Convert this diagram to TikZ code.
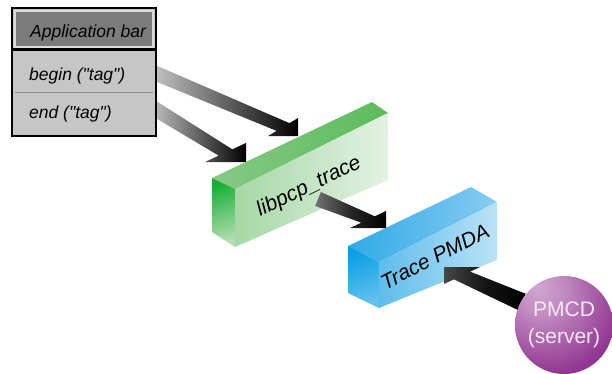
\documentclass[tikz,border=0pt]{standalone}
\usepackage{fontspec}
\setmainfont{Liberation Sans}[Ligatures=TeXOff]
\usepackage{tikz}
\usetikzlibrary{calc, shadings}

\definecolor{appgray}{HTML}{C6C6C6}
\definecolor{barface}{HTML}{7B7B7B}
\definecolor{barlight}{HTML}{DCDCDC}
\definecolor{sepgray}{HTML}{8A8A8A}
% green slab
\definecolor{gEndTop}{HTML}{18B034}
\definecolor{gEndBot}{HTML}{B2DEB2}
\definecolor{gFrontL}{HTML}{A6D8A6}
\definecolor{gFrontR}{HTML}{E4F2E4}
\definecolor{gTopL}{HTML}{86C986}
\definecolor{gTopM}{HTML}{D9EED9}
\definecolor{gTopR}{HTML}{5CBC5C}
% blue slab
\definecolor{bEndTop}{HTML}{0A9FE4}
\definecolor{bEndBot}{HTML}{62C2EF}
\definecolor{bFrontL}{HTML}{5EBDEC}
\definecolor{bFrontR}{HTML}{BCE2F6}
\definecolor{bTopL}{HTML}{30AAE6}
\definecolor{bTopM}{HTML}{C8E7F8}
\definecolor{bTopR}{HTML}{88CBF1}
% server ball
\definecolor{ballhi}{HTML}{D0A8D0}
\definecolor{ballmid}{HTML}{933892}
\definecolor{balledge}{HTML}{6A0B6A}
\definecolor{pmcdtext}{HTML}{F6E8F6}

\pgfdeclareradialshading{pmcdball}{\pgfpoint{-14bp}{20bp}}{%
  color(0bp)=(ballhi); color(12bp)=(ballhi!75!ballmid);
  color(36bp)=(ballmid); color(62bp)=(balledge); color(85bp)=(balledge)}

% fat arrow: [shading]{tail}{tip}{horizontal leg}{vertical leg}
\newcommand{\shafthalf}{7.5pt}
\newcommand{\flowarrow}[5][]{%
  \coordinate (hd1) at ($(#3)+(0,#5)$);
  \coordinate (hd2) at ($(#3)+(#4,0)$);
  \coordinate (hdm) at ($(hd1)!0.5!(hd2)$);
  \shade[arrowbody,#1] ($(#2)!\shafthalf!90:(hdm)$) -- ($(hdm)!\shafthalf!(hd1)$) -- (hd1) -- (#3)
    -- (hd2) -- ($(hdm)!\shafthalf!(hd2)$) -- ($(#2)!\shafthalf!-90:(hdm)$) -- cycle;
}

\begin{document}
\begin{tikzpicture}
  [x=1pt, y=-1pt,
    apptext/.style={font=\itshape\fontsize{17.5}{20}\selectfont, anchor=base west, inner sep=0pt},
    blocklabel/.style={font=\itshape\fontsize{21}{24}\selectfont, inner sep=0pt},
    server/.style={circle, minimum size=98pt, shading=pmcdball, text=pmcdtext,
        align=center, font=\fontsize{21}{27}\selectfont, inner sep=0pt},
    arrowbody/.style={left color=black!20, middle color=black!80, right color=black},
  ]
  \useasboundingbox (0,0) rectangle (612,373);

  % arrow end points
  \coordinate (beginport) at (150,71);
  \coordinate (endport) at (150,106);
  \coordinate (tracein1) at (298,136);
  \coordinate (tracein2) at (246,162);
  \coordinate (traceout) at (318,199);
  \coordinate (pmdain) at (386,228);
  \coordinate (pmdaport) at (444,267);
  \coordinate (pmcdport) at (522,302);

  \flowarrow{beginport}{tracein1}{-30}{-18}
  \flowarrow{endport}{tracein2}{-41}{-19}

  % application bar
  \fill[appgray] (12,8) rectangle (156,136);
  \filldraw[fill=barface, draw=barlight, line width=1.2pt] (15,11) rectangle (153,47);
  \draw[line width=2.5pt] (12,49.5) -- (156,49.5);
  \draw[sepgray, line width=0.8pt] (15,92) -- (153,92);
  \draw[line width=1.5pt] (12,8) rectangle (156,136);
  \node[apptext] (appbar) at (30,37) {Application bar};
  \node[apptext] (begintag) at (29,80) {begin ("tag")};
  \node[apptext] (endtag) at (29,118) {end ("tag")};

  % libpcp_trace slab
  \coordinate (g-bl) at (212,178);
  \coordinate (g-fl) at (235,189);
  \coordinate (g-fr) at (388,113);
  \coordinate (g-br) at (372,102);
  \coordinate (g-flb) at (235,247);
  \coordinate (g-frb) at (388,180);
  \coordinate (g-blb) at (212,232);
  \shade[left color=gTopL, middle color=gTopM, right color=gTopR]
    (g-bl) -- (g-br) -- (g-fr) -- (g-fl) -- cycle;
  \shade[top color=gEndTop, bottom color=gEndBot, shading angle=20]
    (g-bl) -- (g-fl) -- (g-flb) -- (g-blb) -- cycle;
  \shade[left color=gFrontL, right color=gFrontR]
    (g-fl) -- (g-fr) -- (g-frb) -- (g-flb) -- cycle;
  \node[blocklabel, rotate=26] (libpcp) at (309,187) {libpcp\_trace};

  % Trace PMDA slab
  \coordinate (b-bl) at (348,246);
  \coordinate (b-fl) at (379,262);
  \coordinate (b-fr) at (497,202);
  \coordinate (b-br) at (471,187);
  \coordinate (b-flb) at (379,308);
  \coordinate (b-frb) at (497,260);
  \coordinate (b-blb) at (348,293);
  \shade[left color=bTopL, middle color=bTopM, right color=bTopR]
    (b-bl) -- (b-br) -- (b-fr) -- (b-fl) -- cycle;
  \shade[top color=bEndTop, bottom color=bEndBot, shading angle=20]
    (b-bl) -- (b-fl) -- (b-flb) -- (b-blb) -- cycle;
  \shade[left color=bFrontL, right color=bFrontR]
    (b-fl) -- (b-fr) -- (b-frb) -- (b-flb) -- cycle;
  \node[blocklabel, rotate=27] (pmda) at (435,257) {Trace PMDA};

  \flowarrow[left color=black!55, middle color=black!85]{traceout}{pmdain}{-36}{-17}
  \renewcommand{\shafthalf}{9pt}
  \flowarrow[left color=black!72, middle color=black!92]{pmcdport}{pmdaport}{36}{17}

  % PMCD
  \node[server] (pmcd) at (564,325) {PMCD\\(server)};
\end{tikzpicture}
\end{document}
